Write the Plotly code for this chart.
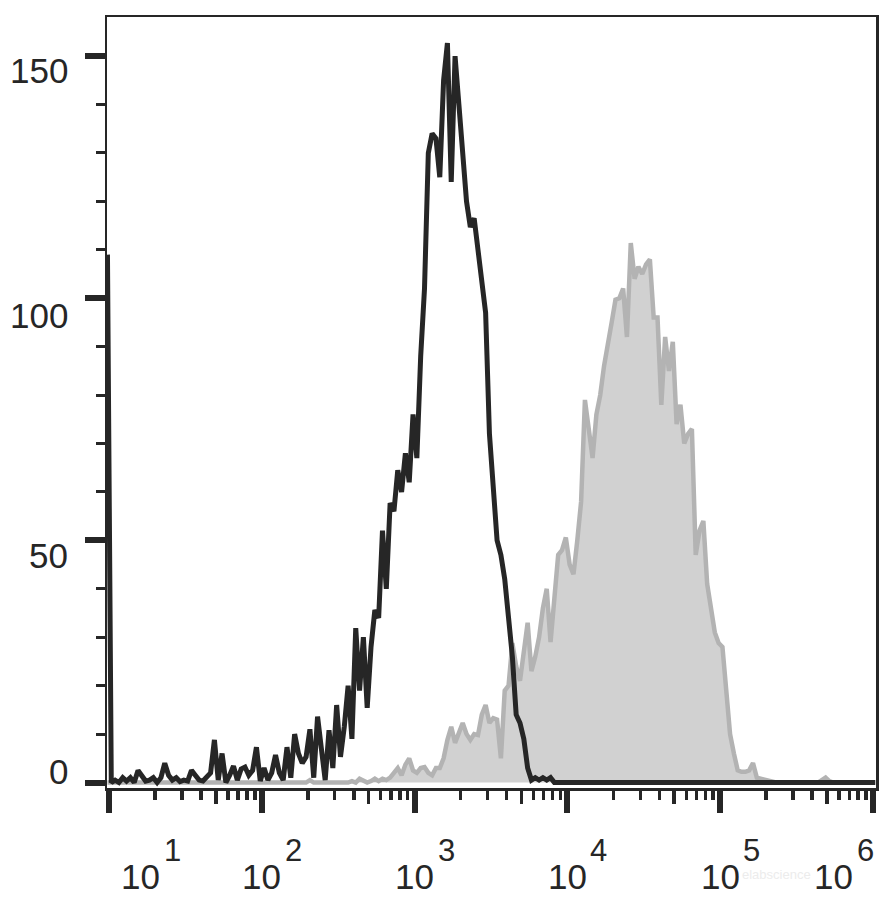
import plotly.graph_objects as go

# ---- histogram bin definition (log10 of fluorescence) ----
LOG_START = 0.99
LOG_STEP = 0.025

# ---- counts (black = unfilled line, gray = filled) ----
black_counts = [
    109, 0, 0.5, 0, 1, 0.3, 1, 0, 2.5, 1.5,
    0.3, 0.5, 1, 0, 1, 4, 1.5, 0.5, 1, 0.2,
    0.5, 0.3, 2.5, 1.5, 0.5, 0.3, 1.2, 2, 8.8, 0.5,
    6, 0, 1.5, 3.4, 0.5, 2.8, 3.2, 1.5, 2.5, 7.3,
    0.3, 3, 0.5, 2, 5.7, 2, 0.5, 7.3, 1, 10,
    6, 4, 5.3, 11, 1, 13.6, 7, 0.5, 10.8, 3,
    16, 5.3, 11.5, 20, 9, 31.9, 19, 30, 15.4, 28,
    35.6, 34, 52, 40, 57.7, 56, 64.5, 60, 68, 62,
    76, 67, 88, 102, 130, 134, 133, 125, 145, 152.7,
    124, 150, 140, 130, 120, 114.7, 116.5, 110, 104, 97,
    72, 60, 50, 47, 42, 34, 26, 14, 12.3, 9,
    3, 0.5, 1, 0.5, 1, 0.5, 1, 0, 0, 0,
    0, 0, 0, 0, 0, 0, 0, 0, 0, 0,
    0, 0, 0, 0, 0, 0, 0, 0, 0, 0,
    0, 0, 0, 0, 0, 0, 0, 0, 0, 0,
    0, 0, 0, 0, 0, 0, 0, 0, 0, 0,
    0, 0, 0, 0, 0, 0, 0, 0, 0, 0,
    0, 0, 0, 0, 0, 0, 0, 0, 0, 0,
    0, 0, 0, 0, 0, 0, 0, 0, 0, 0,
    0, 0, 0, 0, 0, 0, 0, 0, 0, 0,
    0, 0,
]

gray_counts = [
    0, 0, 0, 0, 0, 0, 0, 0, 0, 0,
    0, 0, 0, 0, 0, 0, 0, 0, 0, 0,
    0, 0, 0, 0, 0, 0, 0, 0, 0, 0,
    0, 0, 0, 0, 0, 0, 0, 0, 0, 0,
    0, 0, 0, 0, 0, 0, 0, 0, 0, 0,
    0, 0, 0, 0.5, 0, 0, 0, 0, 0, 0,
    0, 0, 0, 0, 0.3, 0, 0.8, 0.5, 0, 0.3,
    0.8, 0.3, 0.8, 0.5, 1, 2, 3, 1.5, 3.7, 5,
    2.5, 2, 3, 3.2, 2, 1.5, 3, 3, 5, 8.8,
    11.5, 8.2, 10, 12.3, 10, 8.8, 10, 9.8, 14, 16,
    12.3, 13.3, 13, 5, 19, 20, 28.8, 24, 21, 28,
    33, 23, 26, 30, 36, 40, 29, 38, 47, 48,
    50.6, 45, 43, 50, 58, 79, 72, 67, 76, 80,
    86, 90, 95, 99.7, 100, 102, 92, 111.4, 104, 106.5,
    105, 107, 108, 96, 96, 78, 92, 85, 91, 74,
    78, 70, 72, 73, 47, 52, 54, 41, 36, 31,
    28.8, 28, 19, 10, 6, 2.5, 2.2, 2.2, 2.5, 4,
    1, 0.8, 0.5, 0.3, 0, 0, 0, 0, 0, 0,
    0, 0, 0, 0, 0, 0, 0, 0.5, 1, 0.3,
    0, 0, 0, 0, 0, 0, 0, 0, 0, 0,
    0, 0,
]

# ---- axis ticks / labels ----
y_tick_values = [0, 50, 100, 150]
y_tick_labels = ["0", "50", "100", "150"]
x_decades = [1, 2, 3, 4, 5, 6]
x_base_label = "10"
x_exp_labels = ["1", "2", "3", "4", "5", "6"]
watermark_text = "elabscience"

# ---- style / layout settings ----
INK = "#262626"
FONT = "Liberation Sans, Arial, sans-serif"
X_RANGE = [0.987, 6.02]
Y_RANGE = [-1.13, 158.07]
y_label_yshift = [11, -15, -17, -14]
x_label_xshift = [32, 0, 0, 0, 0, -39]

bins = [10 ** (LOG_START + LOG_STEP * i) for i in range(len(black_counts))]

major_x = [10 ** d for d in x_decades]
minor_x = [k * 10 ** d for d in range(1, 6) for k in (2, 3, 4, 6, 7, 8, 9)]
mid_x = [5 * 10 ** d for d in range(1, 6)]

fig = go.Figure()
fig.add_trace(go.Scatter(
    x=bins, y=gray_counts, mode="lines",
    line=dict(color="#b3b3b3", width=4.5),
    fill="tozeroy", fillcolor="#d1d1d1",
    hoverinfo="skip", showlegend=False,
))
fig.add_trace(go.Scatter(
    x=bins, y=black_counts, mode="lines",
    line=dict(color=INK, width=5),
    hoverinfo="skip", showlegend=False,
))
# invisible trace so that the overlay axis (mid-decade ticks) is drawn
fig.add_trace(go.Scatter(
    x=bins, y=black_counts, mode="lines", xaxis="x2",
    line=dict(color="rgba(0,0,0,0)", width=0),
    hoverinfo="skip", showlegend=False,
))

annotations = []
for v, t, ys in zip(y_tick_values, y_tick_labels, y_label_yshift):
    annotations.append(dict(
        text=t, xref="paper", x=0, xanchor="right", xshift=-37,
        yref="y", y=v, yanchor="middle", yshift=ys,
        showarrow=False, font=dict(family=FONT, size=35, color=INK),
    ))

annotations.append(dict(
    text=watermark_text, xref="paper", x=0.871, xanchor="center",
    yref="paper", y=0, yanchor="middle", yshift=-86,
    showarrow=False, font=dict(family=FONT, size=13, color="#ececec"),
))

for d, e, xs in zip(x_decades, x_exp_labels, x_label_xshift):
    annotations.append(dict(
        text=x_base_label, xref="x", x=d, xanchor="center", xshift=xs,
        yref="paper", y=0, yanchor="middle", yshift=-88.5,
        showarrow=False, font=dict(family=FONT, size=35, color=INK),
    ))
    annotations.append(dict(
        text=e, xref="x", x=d, xanchor="center", xshift=xs + 31.5,
        yref="paper", y=0, yanchor="middle", yshift=-62,
        showarrow=False, font=dict(family=FONT, size=31, color=INK),
    ))

fig.update_layout(
    width=883, height=905,
    margin=dict(l=107, r=4, t=17, b=117),
    paper_bgcolor="white", plot_bgcolor="white",
    showlegend=False,
    xaxis=dict(
        type="log", range=X_RANGE,
        showline=True, linecolor=INK, linewidth=2.5, mirror=True,
        ticks="outside", tickmode="array", tickvals=major_x,
        ticklen=22, tickwidth=6, tickcolor=INK,
        showticklabels=False, showgrid=False, zeroline=False,
        minor=dict(tickmode="array", tickvals=minor_x, ticks="outside",
                   ticklen=9, tickwidth=3.5, tickcolor=INK, showgrid=False),
    ),
    xaxis2=dict(
        type="log", range=X_RANGE, overlaying="x", anchor="y", side="bottom",
        showline=False, ticks="outside", tickmode="array", tickvals=mid_x,
        ticklen=15, tickwidth=3.5, tickcolor=INK,
        showticklabels=False, showgrid=False, zeroline=False,
    ),
    yaxis=dict(
        range=Y_RANGE,
        showline=True, linecolor=INK, linewidth=2.5, mirror=True,
        ticks="outside", tickmode="array", tickvals=y_tick_values,
        ticklen=20, tickwidth=6, tickcolor=INK,
        showticklabels=False, showgrid=False, zeroline=False,
        minor=dict(tick0=0, dtick=10, ticks="outside",
                   ticklen=9, tickwidth=3, tickcolor=INK, showgrid=False),
    ),
    annotations=annotations,
)

fig.write_html(
    "out.html",
    config={"displayModeBar": False, "staticPlot": True},
    post_script="document.body.style.margin='0';document.body.style.padding='0';",
)
